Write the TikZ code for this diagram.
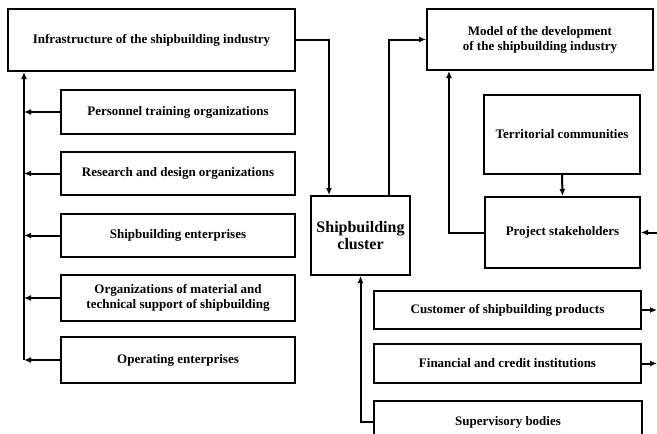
\documentclass[tikz,border=0pt]{standalone}
\usepackage{fontspec}
\setmainfont{Liberation Serif}
\usetikzlibrary{arrows.meta}
\begin{document}
\begin{tikzpicture}[x=1pt,y=-1pt,
  box/.style={draw, line width=2pt, rectangle, inner sep=0pt, align=center,
    font=\fontsize{13}{15}\selectfont\bfseries},
  arr/.style={line width=2pt, -{Latex[length=7pt,width=6pt]}}]
\useasboundingbox (0,0) rectangle (657,434);
\clip (0,0) rectangle (657,434);

% left column: infrastructure and its members
\node[box, minimum width=287pt, minimum height=62pt] (infra) at (151.5,40) {Infrastructure of the shipbuilding industry};
\node[box, minimum width=234pt, minimum height=44pt] (personnel) at (178,112) {Personnel training organizations};
\node[box, minimum width=234pt, minimum height=43pt] (research) at (178,173.5) {Research and design organizations};
\node[box, minimum width=234pt, minimum height=43pt] (shipent) at (178,235.5) {Shipbuilding enterprises};
\node[box, minimum width=234pt, minimum height=46pt] (support) at (178,298) {Organizations of material and\\technical support of shipbuilding};
\node[box, minimum width=234pt, minimum height=46pt] (operating) at (178,360) {Operating enterprises};

% central cluster
\node[box, minimum width=99pt, minimum height=79pt, font=\fontsize{16}{17}\selectfont\bfseries] (cluster) at (360.5,235.5) {Shipbuilding\\cluster};

% right column
\node[box, minimum width=226pt, minimum height=61pt] (model) at (540,39.5) {Model of the development\\of the shipbuilding industry};
\node[box, minimum width=156pt, minimum height=79pt] (territorial) at (562,134.5) {Territorial communities};
\node[box, minimum width=155pt, minimum height=71pt] (project) at (562.5,232.5) {Project stakeholders};
\node[box, minimum width=267pt, minimum height=38pt] (customer) at (507.5,310) {Customer of shipbuilding products};
\node[box, minimum width=267pt, minimum height=39pt] (financial) at (507.5,363.5) {Financial and credit institutions};
\node[box, minimum width=268pt, minimum height=42pt] (supervisory) at (508,422) {Supervisory bodies};

% bus lines
\coordinate (bus) at (24,0);
\coordinate (down) at (329,0);
\coordinate (up) at (389,0);
\coordinate (back) at (449,0);
\coordinate (sup) at (360.5,0);
\coordinate (edgein) at (660,232.5);

\foreach \n in {personnel,research,shipent,support,operating}
  \draw[arr] (\n.west) -- (bus |- \n.west);
\draw[arr] (bus |- operating.west) -- (bus |- infra.south);

\draw[arr] (infra.east) -| (down |- cluster.north);
\draw[arr] (up |- cluster.north) |- (model.west);
\draw[arr] (project.west) -| (back |- model.south);
\draw[arr] (territorial.south) -- (project.north);
\draw[arr] (edgein) -- (project.east);
\draw[arr] (customer.east) -- ++(15,0);
\draw[arr] (financial.east) -- ++(15,0);
\draw[arr] (supervisory.west) -| (sup |- cluster.south);
\end{tikzpicture}
\end{document}
